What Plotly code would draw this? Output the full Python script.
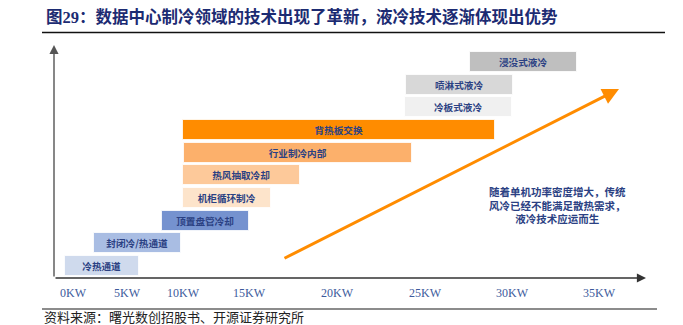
import plotly.graph_objects as go

# Cooling technologies, bottom row first
techs = ["冷热通道", "封闭冷/热通道", "顶置盘管冷却", "机柜循环制冷", "热风抽取冷却",
         "行业制冷内部", "背热板交换", "冷板式液冷", "喷淋式液冷", "浸没式液冷"]
# Span of each technology along the power-density axis (axis position units)
x_start = [65, 94, 162, 183, 183, 184, 183, 405, 406, 470]
x_end = [139, 181, 249, 271, 300, 412, 495, 512, 513, 577]
colors = ["#cfdaed", "#a9bde3", "#7592cf", "#fde4cb", "#fdc99a",
          "#fcb06b", "#ff8c00", "#f0f0f0", "#d8d8d8", "#bfbfbf"]

# Power-density tick marks
tick_pos = [73, 127, 183, 249, 337, 425, 512, 599]
tick_labels = ["0KW", "5KW", "10KW", "15KW", "20KW", "25KW", "30KW", "35KW"]

rows = list(range(len(techs)))
widths = [e - s for s, e in zip(x_start, x_end)]

W, H = 683, 325
Y0, Y1 = -2.6, 11.74          # vertical range in row units
px_per_row = H / (Y1 - Y0)


def yrow(py):
    """Convert a vertical pixel position into row units."""
    return Y0 + (H - py) / px_per_row


label_blue = "#2b4183"
cjk = "Noto Sans CJK SC"
serif = "Liberation Serif, Noto Sans CJK SC"

fig = go.Figure()
fig.add_trace(go.Bar(
    y=rows, x=widths, base=x_start, orientation="h",
    width=0.88,
    marker=dict(color=colors, line=dict(color="rgba(255,255,255,0.8)", width=1)),
    text=techs, textposition="inside", insidetextanchor="middle",
    textfont=dict(family=cjk, size=11, color=label_blue, weight="bold"),
    hoverinfo="skip", showlegend=False,
))

x_axis_y = yrow(278)

annotations = [
    # vertical axis with arrow
    dict(x=54, y=yrow(45), ax=54, ay=x_axis_y, xref="x", yref="y", axref="x", ayref="y",
         text="", showarrow=True, arrowhead=2, arrowsize=1.3, arrowwidth=1.4,
         arrowcolor="#555555", standoff=0, startstandoff=0),
    # horizontal axis with arrow
    dict(x=646, y=x_axis_y, ax=54, ay=x_axis_y, xref="x", yref="y", axref="x", ayref="y",
         text="", showarrow=True, arrowhead=2, arrowsize=1.3, arrowwidth=1.4,
         arrowcolor="#333333", standoff=0, startstandoff=0),
    # trend arrow
    dict(x=619, y=yrow(89), ax=283, ay=yrow(259), xref="x", yref="y", axref="x", ayref="y",
         text="", showarrow=True, arrowhead=2, arrowsize=1.1, arrowwidth=3,
         arrowcolor="#ff8c00", standoff=0, startstandoff=0),
    # explanatory note
    dict(x=557, y=yrow(205), xref="x", yref="y", showarrow=False,
         text="随着单机功率密度增大，传统<br>风冷已经不能满足散热需求，<br>液冷技术应运而生",
         align="center", xanchor="center", yanchor="middle",
         font=dict(family=cjk, size=10.5, color=label_blue, weight="bold")),
    # title
    dict(x=44 / W, y=1 - 17 / H, xref="paper", yref="paper", showarrow=False,
         text="<b>图29：数据中心制冷领域的技术出现了革新，液冷技术逐渐体现出优势</b>",
         xanchor="left", yanchor="middle",
         font=dict(family=serif, size=16.5, color="#1c2b72")),
    # source
    dict(x=42 / W, y=1 - 316.5 / H, xref="paper", yref="paper", showarrow=False,
         text="资料来源：曙光数创招股书、开源证券研究所",
         xanchor="left", yanchor="middle",
         font=dict(family=cjk, size=13, color="#222222")),
]

shapes = [
    dict(type="line", xref="paper", yref="paper", x0=42 / W, x1=665 / W,
         y0=1 - 32.5 / H, y1=1 - 32.5 / H, line=dict(color="#111111", width=1.5)),
    dict(type="line", xref="paper", yref="paper", x0=42 / W, x1=657 / W,
         y0=1 - 309 / H, y1=1 - 309 / H, line=dict(color="#8c8c8c", width=2)),
]

fig.update_layout(
    width=W, height=H, autosize=False,
    margin=dict(l=0, r=0, t=0, b=0),
    paper_bgcolor="white", plot_bgcolor="white",
    annotations=annotations, shapes=shapes,
    bargap=0,
    xaxis=dict(range=[0, W], domain=[0, 1], showgrid=False, zeroline=False, showline=False,
               tickmode="array", tickvals=tick_pos, ticktext=tick_labels,
               ticks="", anchor="free", position=(H - 278) / H, ticklabelstandoff=6,
               tickfont=dict(family=serif, size=12, color="#3d5a9c"), fixedrange=True),
    yaxis=dict(range=[Y0, Y1], domain=[0, 1], visible=False, fixedrange=True),
)

fig.write_html("out.html")
